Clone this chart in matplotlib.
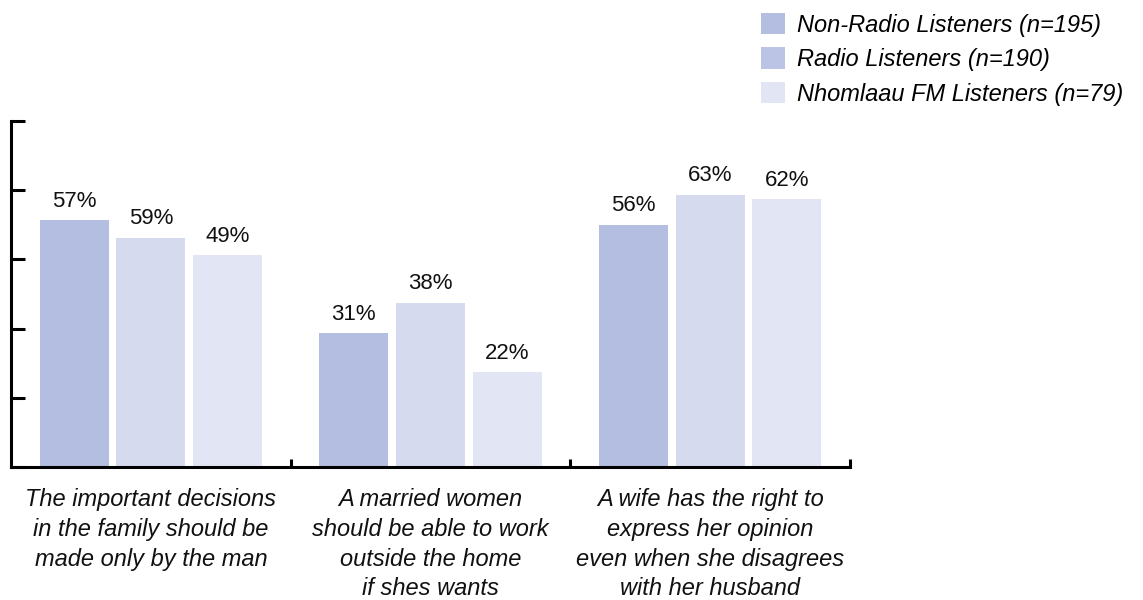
import matplotlib
matplotlib.use("Agg")
import matplotlib.pyplot as plt
from matplotlib.patches import Patch
import numpy as np

# Data
categories = [
    "The important decisions\nin the family should be\nmade only by the man",
    "A married women\nshould be able to work\noutside the home\nif shes wants",
    "A wife has the right to\nexpress her opinion\neven when she disagrees\nwith her husband",
]
series_names = ["Non-Radio Listeners (n=195)", "Radio Listeners (n=190)",
                "Nhomlaau FM Listeners (n=79)"]
# bar heights as drawn (the middle bar of group 1 is drawn lower than its label)
non_radio = [57, 31, 56]
radio = [53, 38, 63]
nhomlaau = [49, 22, 62]
# printed labels
non_radio_labels = ["57%", "31%", "56%"]
radio_labels = ["59%", "38%", "63%"]
nhomlaau_labels = ["49%", "22%", "62%"]

bar_colors = ["#b4bee0", "#d5daef", "#e2e5f4"]
legend_colors = ["#b4bee0", "#bcc4e5", "#e2e5f4"]

plt.rcParams['font.family'] = ['Liberation Sans', 'DejaVu Sans']

fig = plt.figure(figsize=(11.43, 6.0), dpi=100)
ax = fig.add_axes([11 / 1143, 133 / 600, 839 / 1143, 346 / 600])

x = np.arange(len(categories))
width = 0.247
step = 0.274
all_vals = [non_radio, radio, nhomlaau]
all_labels = [non_radio_labels, radio_labels, nhomlaau_labels]
for k in range(3):
    pos = x + (k - 1) * step
    ax.bar(pos, all_vals[k], width, color=bar_colors[k], zorder=2)
    for p, v, lab in zip(pos, all_vals[k], all_labels[k]):
        ax.annotate(lab, (p, v), xytext=(0, 6), textcoords="offset points",
                    ha="center", va="bottom", fontsize=16, color="#111111")

ax.set_xlim(-0.5, 2.5)
ax.set_ylim(0, 80)
ax.set_yticks(np.arange(0, 81, 16))
ax.set_yticklabels([])
ax.set_xticks([0.5, 1.5, 2.5])
ax.set_xticklabels([])
ax.tick_params(axis="y", direction="in", length=10, width=2.2, color="black")
ax.tick_params(axis="x", direction="in", length=6, width=2.2, color="black")
for s in ["top", "right"]:
    ax.spines[s].set_visible(False)
for s in ["left", "bottom"]:
    ax.spines[s].set_linewidth(2.2)
    ax.spines[s].set_color("black")
ax.spines["bottom"].set_capstyle("projecting")

for i, c in enumerate(categories):
    ax.annotate(c, (i, 0), xycoords=("data", "axes fraction"),
                xytext=(0, -15), textcoords="offset points",
                ha="center", va="top", fontsize=17, style="italic",
                linespacing=1.38, color="#111111")

handles = [Patch(facecolor=c, edgecolor="none") for c in legend_colors]
fig.legend(handles, series_names, loc="upper left",
           bbox_to_anchor=(761 / 1143, 1 - 13 / 600), frameon=False,
           prop={"size": 17, "style": "italic"}, handlelength=1.02,
           handleheight=1.02, handletextpad=0.5, labelspacing=0.45,
           borderpad=0, borderaxespad=0)

fig.savefig("out.png", dpi=100)
